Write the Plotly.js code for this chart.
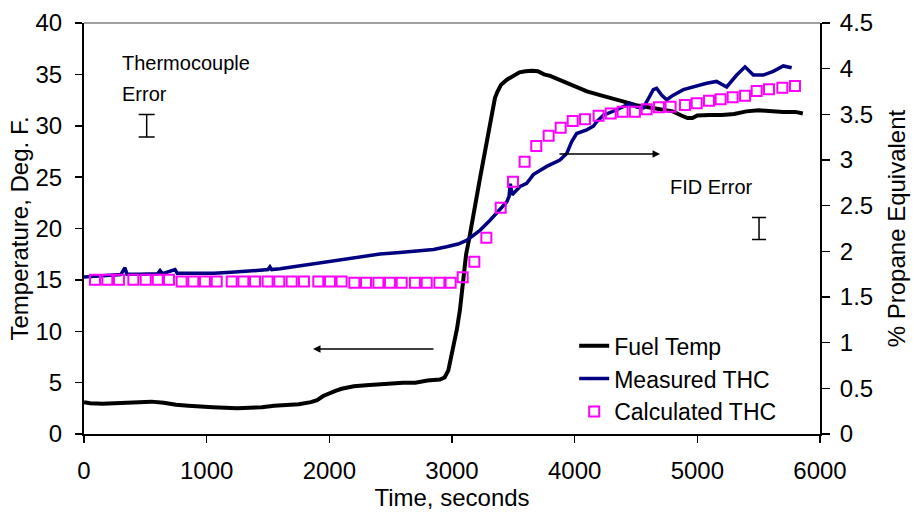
<!DOCTYPE html>
<html>
<head>
<meta charset="utf-8">
<script src="https://cdn.plot.ly/plotly-3.0.1.min.js"></script>
<style>html,body{margin:0;padding:0;background:#fff;}#chart{width:914px;height:514px;}</style>
</head>
<body>
<div id="chart"></div>
<script>
// Fuel temperature (left axis, Deg. F)
const fuelTime = [0,50,150,250,350,450,550,650,750,850,950,1050,1150,1250,1350,1450,1550,1650,1750,1850,1900,1950,2000,2050,2100,2150,2200,2300,2400,2500,2600,2700,2800,2900,2940,2970,3000,3020,3040,3065,3090,3115,3140,3160,3200,3230,3260,3285,3310,3330,3350,3370,3400,3450,3500,3550,3600,3650,3700,3750,3800,3850,3900,3950,4000,4100,4200,4300,4400,4500,4600,4700,4800,4870,4920,4960,5000,5100,5200,5300,5400,5500,5600,5700,5800,5860];
const fuelTemp = [3.1,3.0,2.95,3.0,3.0,3.1,3.15,3.05,2.85,2.75,2.65,2.6,2.55,2.5,2.55,2.6,2.75,2.8,2.9,3.1,3.3,3.7,4.0,4.2,4.4,4.55,4.65,4.75,4.85,4.95,5.0,5.0,5.2,5.3,5.5,6.2,7.8,9.0,10.2,12.1,14.5,17.5,19.0,20.2,23.0,25.0,27.0,28.5,30.2,31.5,32.7,33.3,34.0,34.5,34.9,35.2,35.3,35.35,35.3,35.0,34.85,34.6,34.4,34.1,33.9,33.35,33.0,32.7,32.35,32.0,31.8,31.6,31.4,31.0,30.75,30.75,31.0,31.05,31.05,31.15,31.4,31.5,31.4,31.35,31.35,31.2];

// Measured THC (right axis, % propane equivalent)
const thcTime = [0,100,200,300,334,350,450,600,620,640,742,760,900,1060,1200,1326,1500,1516,1530,1598,1750,1870,2000,2141,2300,2413,2550,2684,2850,2956,3050,3119,3228,3310,3400,3446,3465,3475,3490,3555,3609,3663,3772,3880,3935,3975,4016,4098,4152,4180,4234,4315,4343,4451,4505,4560,4600,4641,4668,4709,4750,4804,4886,4967,5076,5157,5239,5321,5389,5457,5538,5619,5701,5769];
const thcMeasured = [1.72,1.73,1.74,1.745,1.82,1.75,1.75,1.755,1.79,1.755,1.80,1.76,1.76,1.76,1.77,1.78,1.80,1.83,1.80,1.81,1.84,1.87,1.895,1.92,1.95,1.97,1.985,2.0,2.02,2.05,2.08,2.12,2.23,2.34,2.47,2.54,2.6,2.74,2.62,2.71,2.745,2.84,2.93,3.0,3.07,3.2,3.29,3.33,3.37,3.42,3.49,3.53,3.55,3.62,3.58,3.57,3.66,3.77,3.785,3.71,3.66,3.71,3.77,3.80,3.84,3.86,3.80,3.93,4.02,3.93,3.93,3.97,4.03,4.01];

// Calculated THC (right axis)
const calcTime = [90,190,285,402,503,601,693,796,891,986,1082,1204,1299,1394,1497,1592,1693,1793,1910,2005,2100,2204,2299,2400,2494,2590,2698,2794,2897,2989,3087,3182,3280,3397,3497,3592,3687,3788,3886,3984,4084,4195,4294,4391,4491,4587,4687,4782,4899,4995,5095,5190,5288,5389,5484,5584,5693,5796];
const calcTHC = [1.69,1.69,1.69,1.69,1.69,1.69,1.69,1.67,1.67,1.67,1.67,1.67,1.67,1.67,1.67,1.67,1.67,1.67,1.67,1.67,1.67,1.655,1.655,1.655,1.655,1.655,1.655,1.655,1.655,1.655,1.716,1.886,2.15,2.478,2.763,2.98,3.153,3.266,3.354,3.427,3.446,3.485,3.51,3.529,3.529,3.555,3.577,3.583,3.602,3.621,3.65,3.665,3.687,3.704,3.755,3.774,3.79,3.81];

// Error indicators
const tcErrX = [511], tcErrY = [30], tcErr = [1.1];
const fidErrX = [5503], fidErrY = [2.25], fidErr = [0.12];

const FONT = 'Liberation Sans, Arial, sans-serif';

const traces = [
  {x: fuelTime, y: fuelTemp, type: 'scatter', mode: 'lines', name: 'Fuel Temp',
   line: {color: '#000000', width: 4}, yaxis: 'y'},
  {x: thcTime, y: thcMeasured, type: 'scatter', mode: 'lines', name: 'Measured THC',
   line: {color: '#000080', width: 3.5}, yaxis: 'y2'},
  {x: calcTime, y: calcTHC, type: 'scatter', mode: 'markers', name: 'Calculated THC',
   marker: {symbol: 'square-open', size: 10, color: '#FF00FF', line: {width: 2, color: '#FF00FF'}}, yaxis: 'y2'},
  {x: tcErrX, y: tcErrY, type: 'scatter', mode: 'markers', showlegend: false, hoverinfo: 'skip',
   marker: {size: 1, color: 'rgba(0,0,0,0)'}, yaxis: 'y',
   error_y: {type: 'data', array: tcErr, visible: true, color: '#000', thickness: 1.5, width: 8}},
  {x: fidErrX, y: fidErrY, type: 'scatter', mode: 'markers', showlegend: false, hoverinfo: 'skip',
   marker: {size: 1, color: 'rgba(0,0,0,0)'}, yaxis: 'y2',
   error_y: {type: 'data', array: fidErr, visible: true, color: '#000', thickness: 1.5, width: 7}}
];

const layout = {
  width: 914, height: 514,
  margin: {l: 84, r: 94, t: 23, b: 80},
  paper_bgcolor: '#ffffff', plot_bgcolor: '#ffffff',
  font: {family: FONT, size: 24, color: '#000'},
  showlegend: true,
  legend: {x: 0.666, y: 0.267, xanchor: 'left', yanchor: 'top', bgcolor: 'rgba(0,0,0,0)',
           font: {family: FONT, size: 23, color: '#000'}, tracegroupgap: 0},
  xaxis: {range: [0, 6000], dtick: 1000, tick0: 0, ticks: 'outside', ticklen: 7, tickwidth: 1.5,
          tickcolor: '#000', showline: true, linecolor: '#000', linewidth: 2, showgrid: false,
          zeroline: false, automargin: false, tickfont: {size: 24}, ticklabelstandoff: 7,
          title: {text: 'Time, seconds', font: {size: 24}, standoff: 4}},
  yaxis: {range: [0, 40], dtick: 5, tick0: 0, ticks: 'outside', ticklen: 7, tickwidth: 1.5,
          tickcolor: '#000', showline: true, linecolor: '#000', linewidth: 2, showgrid: false,
          zeroline: false, automargin: false, tickfont: {size: 24}, ticklabelstandoff: 8,
          title: {text: 'Temperature, Deg. F.', font: {size: 24}, standoff: 0}},
  yaxis2: {range: [0, 4.5], dtick: 0.5, tick0: 0, overlaying: 'y', side: 'right', ticks: 'outside',
           ticklen: 8, tickwidth: 1.5, tickcolor: '#000', showline: true, linecolor: '#000', linewidth: 2,
           showgrid: false, zeroline: false, automargin: false, tickfont: {size: 24}, ticklabelstandoff: 5,
           title: {text: '% Propane Equivalent', font: {size: 24}, standoff: 16}},
  shapes: [
    {type: 'line', xref: 'paper', yref: 'paper', x0: 0, x1: 1, y0: 1, y1: 1,
     line: {color: '#808080', width: 1.5}}
  ],
  annotations: [
    {text: 'Thermocouple', xref: 'x', yref: 'y', x: 293, y: 36.1, xanchor: 'left', yanchor: 'middle',
     showarrow: false, font: {size: 20, color: '#000'}},
    {text: 'Error', xref: 'x', yref: 'y', x: 293, y: 33.1, xanchor: 'left', yanchor: 'middle',
     showarrow: false, font: {size: 20, color: '#000'}},
    {text: 'FID Error', xref: 'x', yref: 'y2', x: 4761, y: 2.70, xanchor: 'left', yanchor: 'middle',
     showarrow: false, font: {size: 20, color: '#000'}},
    {text: '', xref: 'x', yref: 'y', x: 1867, y: 8.27, axref: 'x', ayref: 'y', ax: 2861, ay: 8.27,
     showarrow: true, arrowhead: 2, arrowsize: 1, arrowwidth: 1.5, arrowcolor: '#000'},
    {text: '', xref: 'x', yref: 'y2', x: 4696, y: 3.066, axref: 'x', ayref: 'y2', ax: 3864, ay: 3.066,
     showarrow: true, arrowhead: 2, arrowsize: 1, arrowwidth: 1.5, arrowcolor: '#000'}
  ]
};

Plotly.newPlot('chart', traces, layout, {displayModeBar: false, staticPlot: true});
</script>
</body>
</html>
